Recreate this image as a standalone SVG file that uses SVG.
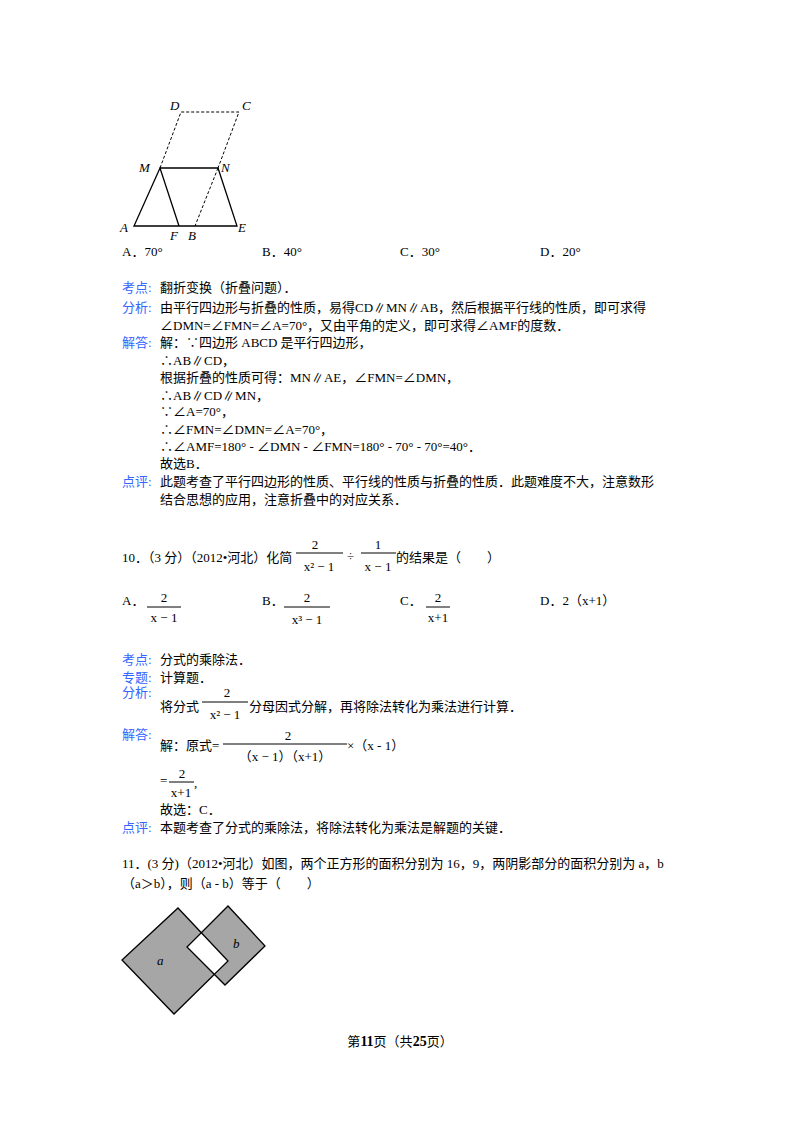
<svg xmlns="http://www.w3.org/2000/svg" width="800" height="1132" viewBox="0 0 800 1132">
<style>
text{font-family:"Liberation Serif","Noto Sans CJK SC",serif;font-size:13px;fill:#000}
.k{fill:#3366ff}
.it{font-style:italic}
.ln{stroke:#000;stroke-width:1.3;fill:none}
.dash{stroke:#000;stroke-width:1;stroke-dasharray:3,2;fill:none}
.bar{stroke:#000;stroke-width:1}
</style>
<rect width="800" height="1132" fill="#fff"/>
<g id="fig1">
<polyline class="dash" points="160,168 181,112 239,112 218,168"/>
<line class="dash" x1="218" y1="168" x2="195" y2="226"/>
<polyline class="ln" points="179,226 160,168 134,226 237,226 218,168 160,168"/>
<text class="it" x="170" y="110">D</text><text class="it" x="242" y="110">C</text>
<text class="it" x="139" y="172">M</text><text class="it" x="221" y="172">N</text>
<text class="it" x="120" y="232">A</text><text class="it" x="170" y="240">F</text>
<text class="it" x="188" y="240">B</text><text class="it" x="238" y="232">E</text>
</g>
<text x="122" y="256">A．70°</text><text x="262" y="256">B．40°</text><text x="400" y="256">C．30°</text><text x="540" y="256">D．20°</text>
<text class="k" x="122" y="292">考点:</text><text x="160" y="292">翻折变换（折叠问题）．</text>
<text class="k" x="122" y="312">分析:</text><text x="160" y="312">由平行四边形与折叠的性质，易得CD∥MN∥AB，然后根据平行线的性质，即可求得</text>
<text x="160" y="330">∠DMN=∠FMN=∠A=70°，又由平角的定义，即可求得∠AMF的度数．</text>
<text class="k" x="122" y="347">解答:</text><text x="160" y="347">解：∵四边形 ABCD 是平行四边形，</text>
<text x="160" y="365">∴AB∥CD，</text>
<text x="160" y="382">根据折叠的性质可得：MN∥AE，∠FMN=∠DMN，</text>
<text x="160" y="400">∴AB∥CD∥MN，</text>
<text x="160" y="416">∵∠A=70°，</text>
<text x="160" y="434">∴∠FMN=∠DMN=∠A=70°，</text>
<text x="160" y="451">∴∠AMF=180° - ∠DMN - ∠FMN=180° - 70° - 70°=40°．</text>
<text x="160" y="468">故选B．</text>
<text class="k" x="122" y="486">点评:</text><text x="160" y="486">此题考查了平行四边形的性质、平行线的性质与折叠的性质．此题难度不大，注意数形</text>
<text x="160" y="504">结合思想的应用，注意折叠中的对应关系．</text>

<text x="122" y="562">10．（3 分）（2012•河北）化简</text>
<text x="315" y="549" text-anchor="middle">2</text><line class="bar" x1="296" y1="553" x2="343" y2="553"/><text x="319" y="571" text-anchor="middle">x² − 1</text>
<text x="347" y="560">÷</text>
<text x="378" y="549" text-anchor="middle">1</text><line class="bar" x1="361" y1="553" x2="396" y2="553"/><text x="378" y="571" text-anchor="middle">x − 1</text>
<text x="396" y="562">的结果是（　　）</text>

<text x="122" y="605">A．</text><text x="164" y="602" text-anchor="middle">2</text><line class="bar" x1="147" y1="607" x2="181" y2="607"/><text x="164" y="622" text-anchor="middle">x − 1</text>
<text x="262" y="605">B．</text><text x="307" y="602" text-anchor="middle">2</text><line class="bar" x1="284" y1="607" x2="330" y2="607"/><text x="307" y="624" text-anchor="middle">x³ − 1</text>
<text x="400" y="605">C．</text><text x="438" y="602" text-anchor="middle">2</text><line class="bar" x1="426" y1="607" x2="450" y2="607"/><text x="438" y="622" text-anchor="middle">x+1</text>
<text x="540" y="605">D．2（x+1）</text>

<text class="k" x="122" y="664">考点:</text><text x="160" y="664">分式的乘除法．</text>
<text class="k" x="122" y="682">专题:</text><text x="160" y="682">计算题．</text>
<text class="k" x="122" y="697">分析:</text>
<text x="160" y="711">将分式</text><text x="227" y="697" text-anchor="middle">2</text><line class="bar" x1="202" y1="702" x2="248" y2="702"/><text x="225" y="719" text-anchor="middle">x² − 1</text>
<text x="249" y="711">分母因式分解，再将除法转化为乘法进行计算．</text>
<text class="k" x="122" y="739">解答:</text>
<text x="160" y="750">解：原式=</text><text x="288" y="740" text-anchor="middle">2</text><line class="bar" x1="223" y1="744" x2="347" y2="744"/><text x="285" y="761" text-anchor="middle">（x − 1）（x+1）</text>
<text x="347" y="750">×（x - 1）</text>
<text x="160" y="785">=</text><text x="182" y="778" text-anchor="middle">2</text><line class="bar" x1="169" y1="782" x2="194" y2="782"/><text x="181" y="797" text-anchor="middle">x+1</text><text x="194" y="787">,</text>
<text x="160" y="814">故选：C．</text>
<text class="k" x="122" y="832">点评:</text><text x="160" y="832">本题考查了分式的乘除法，将除法转化为乘法是解题的关键．</text>

<text x="122" y="868">11．(3 分)（2012•河北）如图，两个正方形的面积分别为 16，9，两阴影部分的面积分别为 a，b</text>
<text x="122" y="888">（a＞b），则（a - b）等于（　　）</text>
<g id="fig2">
<polygon points="178,908 228,961 174,1014 122,960" fill="#a6a6a6"/>
<polygon points="228,906 265,946 225,985 187,947" fill="#a6a6a6"/>
<polygon points="201,932 187,947 215,975 228,961" fill="#fff"/>
<polygon class="ln" points="178,908 228,961 174,1014 122,960" stroke-width="1"/>
<polygon class="ln" points="228,906 265,946 225,985 187,947" stroke-width="1"/>
<text class="it" x="157" y="965" font-family="Liberation Sans,sans-serif">a</text>
<text class="it" x="233" y="948" font-family="Liberation Sans,sans-serif">b</text>
</g>
<text x="400" y="1046" text-anchor="middle" font-size="12">第<tspan font-weight="bold" font-size="14">11</tspan>页（共<tspan font-weight="bold" font-size="14">25</tspan>页）</text>
</svg>
